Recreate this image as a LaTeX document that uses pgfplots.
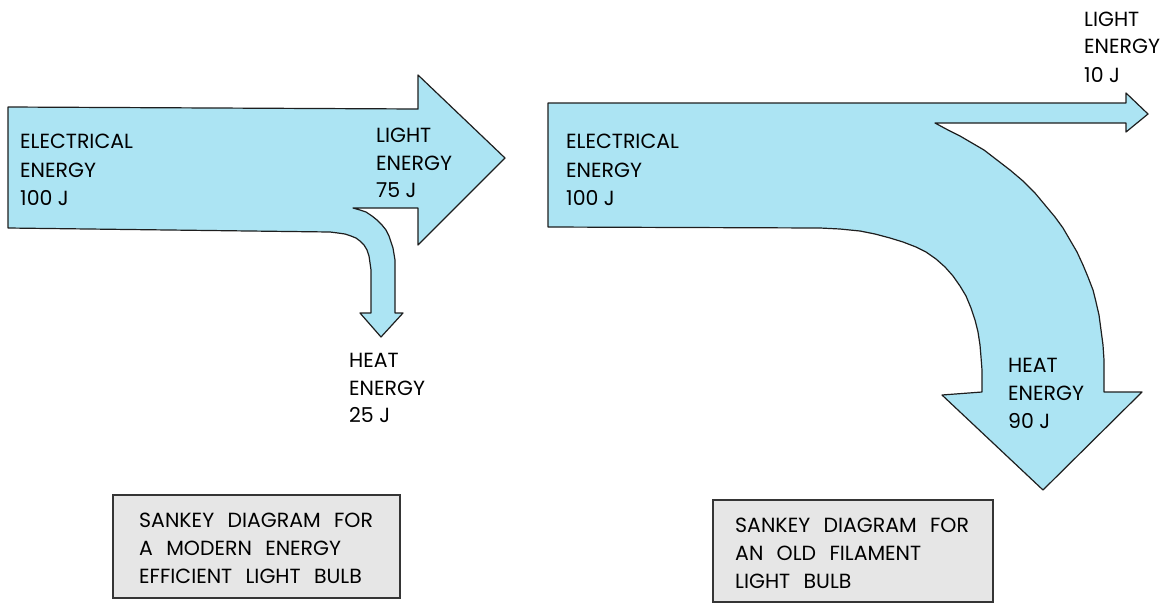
\documentclass[border=0pt]{standalone}
\usepackage{pgfplots}
\pgfplotsset{compat=1.18}
\usepackage{fontspec}
\setmainfont{Poppins}
\definecolor{arrowfill}{RGB}{172,228,243}
\definecolor{edge}{RGB}{30,30,30}
\definecolor{boxfill}{RGB}{230,230,230}
\tikzset{lbl/.style={anchor=base west, inner sep=0pt, text=black, font=\fontsize{20.5}{28}\selectfont}}
\begin{document}
\begin{tikzpicture}
\begin{axis}[
  scale only axis, width=1162pt, height=603pt,
  xmin=0, xmax=1162, ymin=0, ymax=603, y dir=reverse,
  axis lines=none, clip=false,
]
\addplot[draw=none] coordinates {(0,0) (1162,603)};
% ---- left Sankey (modern bulb) ----
\addplot[fill=arrowfill, draw=edge, line width=1.2pt, line join=round] coordinates {
 (8,107) (418,109) (418,75) (505,158) (418,245) (418,208) (353,208)
 (360,210) (366,212) (372,216) (377,220) (382,225) (386,230) (389,236) (391,242)
 (393,248) (394,254) (395,260) (395,266) (395,313)
 (403,313) (381,337) (360,313) (371,313) (371,270) (370,263) (369,256) (367,250) (364,245)
 (360,241) (356,238) (351,236) (345,234) (338,233) (330,232) (8,228)} -- cycle;
% ---- right Sankey (filament bulb) ----
\addplot[fill=arrowfill, draw=edge, line width=1.2pt, line join=round] coordinates {
 (548,103) (1126,103) (1126,93) (1148,114) (1126,132) (1126,123) (935,123)
 (948,130) (960,136) (972,143) (984,150) (997,160) (1010,170) (1023,181) (1035,193)
 (1045,205) (1055,217) (1063,228) (1070,240) (1077,252) (1083,265) (1088,277)
 (1093,290) (1096,302) (1099,315) (1101,330) (1103,345) (1104,360) (1104,392)
 (1142,392) (1043,490) (942,395)
 (982,392) (982,370) (981,357) (980,345) (978,332) (975,320) (971,308) (966,296) (960,286)
 (953,276) (945,267) (936,259) (926,252) (916,247) (903,242) (890,238) (875,234)
 (860,231) (840,229) (820,228) (548,227)} -- cycle;
% ---- caption boxes ----
\addplot[fill=boxfill, draw=edge!90, line width=1.1pt] coordinates {
 (113,495) (400,495) (400,598) (113,598)} -- cycle;
\addplot[fill=boxfill, draw=edge!90, line width=1.1pt] coordinates {
 (713,500) (993,500) (993,602) (713,602)} -- cycle;
% ---- labels left ----
\node[lbl] at (axis cs:20,148) {ELECTRICAL};
\node[lbl] at (axis cs:20,177) {ENERGY};
\node[lbl] at (axis cs:20,205) {100 J};
\node[lbl] at (axis cs:376,142) {LIGHT};
\node[lbl] at (axis cs:376,170) {ENERGY};
\node[lbl] at (axis cs:376,197) {75 J};
\node[lbl] at (axis cs:349,367) {HEAT};
\node[lbl] at (axis cs:349,395) {ENERGY};
\node[lbl] at (axis cs:349,422) {25 J};
% ---- labels right ----
\node[lbl] at (axis cs:566,148) {ELECTRICAL};
\node[lbl] at (axis cs:566,177) {ENERGY};
\node[lbl] at (axis cs:566,205) {100 J};
\node[lbl] at (axis cs:1084,26) {LIGHT};
\node[lbl] at (axis cs:1084,53) {ENERGY};
\node[lbl] at (axis cs:1084,82) {10 J};
\node[lbl] at (axis cs:1008,372) {HEAT};
\node[lbl] at (axis cs:1008,400) {ENERGY};
\node[lbl] at (axis cs:1008,428) {90 J};
% ---- box captions ----
\node[lbl] at (axis cs:139,527) {SANKEY\hspace{0.65em}DIAGRAM\hspace{0.65em}FOR};
\node[lbl] at (axis cs:139,555) {A\hspace{0.65em}MODERN\hspace{0.65em}ENERGY};
\node[lbl] at (axis cs:139,583) {EFFICIENT\hspace{0.65em}LIGHT\hspace{0.65em}BULB};
\node[lbl] at (axis cs:735,532) {SANKEY\hspace{0.65em}DIAGRAM\hspace{0.65em}FOR};
\node[lbl] at (axis cs:735,560) {AN\hspace{0.65em}OLD\hspace{0.65em}FILAMENT};
\node[lbl] at (axis cs:735,588) {LIGHT\hspace{0.65em}BULB};
\end{axis}
\end{tikzpicture}
\end{document}
